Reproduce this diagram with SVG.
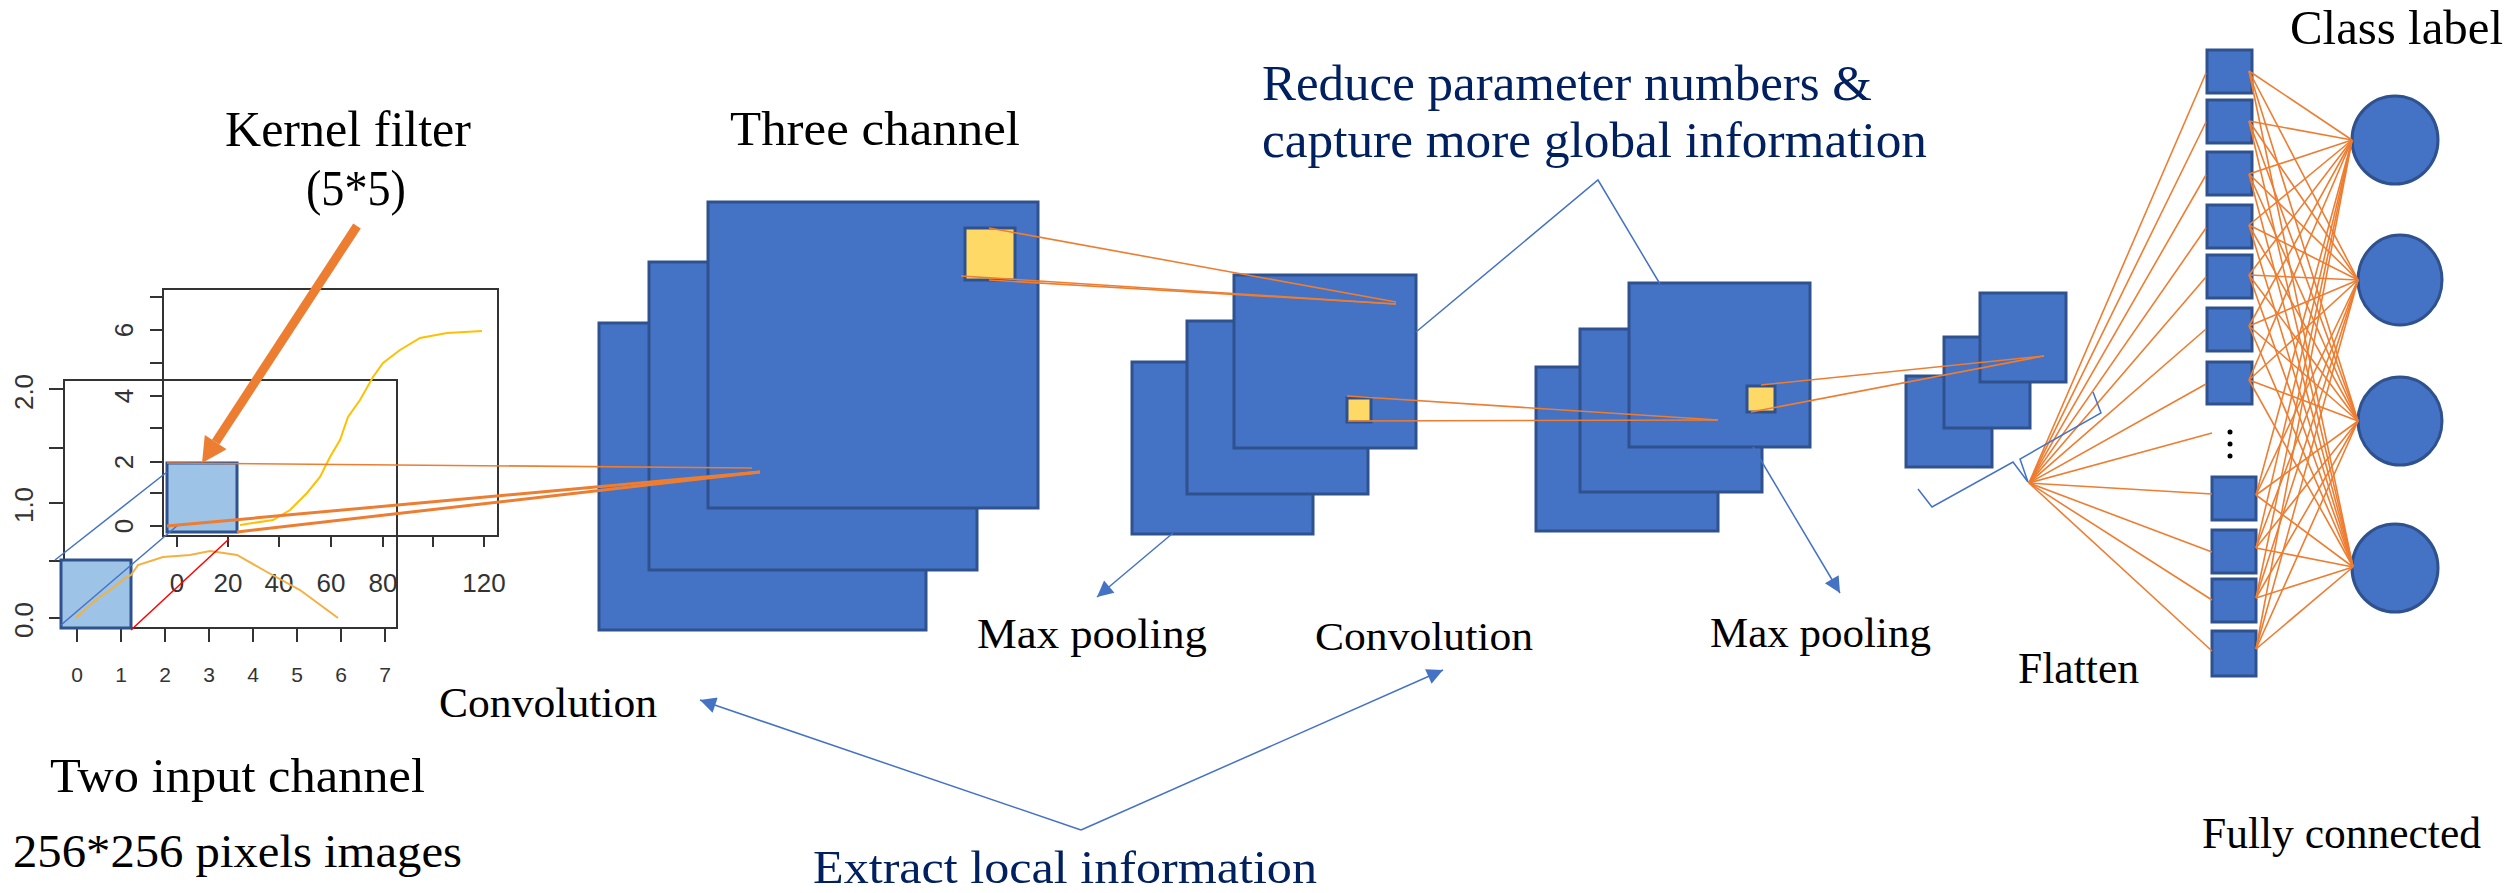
<svg xmlns="http://www.w3.org/2000/svg" width="2517" height="893" viewBox="0 0 2517 893">
<style>
.blk{fill:#4472C4;stroke:#2F528F;stroke-width:3}
.yel{fill:#FFD966;stroke:#2F528F;stroke-width:3}
.kern{fill:#9DC3E6;stroke:#2F528F;stroke-width:3}
.or{stroke:#ED7D31;stroke-width:1.6;fill:none}
.orT{stroke:#ED7D31;stroke-width:3;fill:none}
.bl{stroke:#4472C4;stroke-width:1.5;fill:none}
.t{font-family:"Liberation Serif",serif;fill:#000}
.nav{fill:#002060}
.ax{font-family:"Liberation Sans",sans-serif;fill:#333}
.frame{fill:none;stroke:#333;stroke-width:2}
.tick{stroke:#333;stroke-width:2}
</style>
<defs>
<marker id="ah" viewBox="0 0 10 10" refX="10" refY="5" markerWidth="18" markerHeight="16" markerUnits="userSpaceOnUse" orient="auto">
<path d="M0,0 L10,5 L0,10 z" fill="#4472C4"/>
</marker>
</defs>
<rect width="2517" height="893" fill="#fff"/>

<g id="input-chart">
<rect class="frame" x="163" y="289" width="335" height="247"/>
<rect class="frame" x="64" y="380" width="333" height="248"/>
<g class="tick">
<line x1="150" y1="297" x2="163" y2="297"/><line x1="150" y1="330" x2="163" y2="330"/><line x1="150" y1="363" x2="163" y2="363"/><line x1="150" y1="396" x2="163" y2="396"/><line x1="150" y1="428" x2="163" y2="428"/><line x1="150" y1="462" x2="163" y2="462"/><line x1="150" y1="493" x2="163" y2="493"/><line x1="150" y1="526" x2="163" y2="526"/>
<line x1="177" y1="536" x2="177" y2="547"/><line x1="228" y1="536" x2="228" y2="547"/><line x1="279" y1="536" x2="279" y2="547"/><line x1="331" y1="536" x2="331" y2="547"/><line x1="383" y1="536" x2="383" y2="547"/><line x1="433" y1="536" x2="433" y2="547"/><line x1="484" y1="536" x2="484" y2="547"/>
<line x1="49" y1="389" x2="64" y2="389"/><line x1="49" y1="448" x2="64" y2="448"/><line x1="49" y1="503" x2="64" y2="503"/><line x1="49" y1="561" x2="64" y2="561"/><line x1="49" y1="618" x2="64" y2="618"/>
<line x1="77" y1="628" x2="77" y2="642"/><line x1="121" y1="628" x2="121" y2="642"/><line x1="165" y1="628" x2="165" y2="642"/><line x1="209" y1="628" x2="209" y2="642"/><line x1="253" y1="628" x2="253" y2="642"/><line x1="297" y1="628" x2="297" y2="642"/><line x1="341" y1="628" x2="341" y2="642"/><line x1="385" y1="628" x2="385" y2="642"/>
</g>
<g class="ax" font-size="26" text-anchor="middle">
<text x="177" y="592">0</text><text x="228" y="592">20</text><text x="279" y="592">40</text><text x="331" y="592">60</text><text x="383" y="592">80</text><text x="484" y="592">120</text>
<text transform="translate(133,330) rotate(-90)">6</text><text transform="translate(133,396) rotate(-90)">4</text><text transform="translate(133,462) rotate(-90)">2</text><text transform="translate(133,526) rotate(-90)">0</text>
<text transform="translate(33,392) rotate(-90)">2.0</text><text transform="translate(33,505) rotate(-90)">1.0</text><text transform="translate(33,620) rotate(-90)">0.0</text>
</g>
<g class="ax" font-size="21" text-anchor="middle">
<text x="77" y="682">0</text><text x="121" y="682">1</text><text x="165" y="682">2</text><text x="209" y="682">3</text><text x="253" y="682">4</text><text x="297" y="682">5</text><text x="341" y="682">6</text><text x="385" y="682">7</text>
</g>
<polyline points="240,525 273,520 290,510 307,493 320,477 330,457 340,440 348,417 360,400 373,377 383,363 400,350 420,338 447,333 482,331" fill="none" stroke="#FFC000" stroke-width="2"/>
<rect class="kern" x="61" y="560" width="70" height="68"/>
<rect class="kern" x="167" y="463" width="70" height="69"/>
<polyline points="76,618 90,605 100,597 113,588 125,578 131,575 138,565 163,557 190,555 210,551 237,555 267,572 300,590 338,618" fill="none" stroke="#F4B040" stroke-width="2"/>
<line class="bl" x1="55" y1="560" x2="167" y2="472"/>
<line class="bl" x1="61" y1="625" x2="178" y2="525"/>
<line x1="131" y1="630" x2="229" y2="539" stroke="#FF0000" stroke-width="1.5"/>
</g>

<g id="conv1">
<rect class="blk" x="599" y="323" width="327" height="307"/>
<rect class="blk" x="649" y="262" width="328" height="308"/>
<rect class="blk" x="708" y="202" width="330" height="306"/>
<rect class="yel" x="965" y="228" width="50" height="52"/>
</g>
<g id="maxpool1">
<rect class="blk" x="1132" y="362" width="181" height="172"/>
<rect class="blk" x="1187" y="321" width="181" height="173"/>
<rect class="blk" x="1234" y="275" width="182" height="173"/>
<rect class="yel" x="1347" y="398" width="24" height="24"/>
</g>
<g id="conv2">
<rect class="blk" x="1536" y="367" width="182" height="164"/>
<rect class="blk" x="1580" y="329" width="182" height="163"/>
<rect class="blk" x="1629" y="283" width="181" height="164"/>
<rect class="yel" x="1747" y="386" width="28" height="26"/>
</g>
<g id="maxpool2">
<rect class="blk" x="1906" y="376" width="86" height="91"/>
<rect class="blk" x="1944" y="337" width="86" height="91"/>
<rect class="blk" x="1980" y="293" width="86" height="89"/>
</g>
<g id="fc-layer">
<rect class="blk" x="2207" y="50" width="45" height="43"/>
<rect class="blk" x="2207" y="100" width="45" height="43"/>
<rect class="blk" x="2207" y="152" width="45" height="43"/>
<rect class="blk" x="2207" y="205" width="45" height="43"/>
<rect class="blk" x="2207" y="255" width="45" height="43"/>
<rect class="blk" x="2207" y="308" width="45" height="43"/>
<rect class="blk" x="2207" y="362" width="45" height="42"/>
<circle cx="2230" cy="432" r="2.5" fill="#000"/><circle cx="2230" cy="444" r="2.5" fill="#000"/><circle cx="2230" cy="456" r="2.5" fill="#000"/>
<rect class="blk" x="2212" y="477" width="44" height="43"/>
<rect class="blk" x="2212" y="530" width="44" height="43"/>
<rect class="blk" x="2212" y="579" width="44" height="43"/>
<rect class="blk" x="2212" y="631" width="44" height="45"/>
</g>
<g id="output-layer">
<ellipse class="blk" cx="2395" cy="140" rx="43" ry="44"/>
<ellipse class="blk" cx="2400" cy="280" rx="42" ry="45"/>
<ellipse class="blk" cx="2400" cy="421" rx="42" ry="44"/>
<ellipse class="blk" cx="2395" cy="568" rx="43" ry="44"/>
</g>

<g id="connectors">
<line x1="357" y1="226" x2="215.7" y2="442.1" stroke="#ED7D31" stroke-width="9"/>
<polygon points="202,463 226.6,449.2 204.8,435" fill="#ED7D31"/>
<line class="or" x1="167" y1="463" x2="752" y2="468"/>
<line class="orT" x1="167" y1="526" x2="760" y2="472"/>
<line class="orT" x1="237" y1="532" x2="760" y2="472"/>
<line class="or" x1="989" y1="228" x2="1396" y2="302"/>
<line class="or" x1="961" y1="276" x2="1396" y2="304"/>
<line class="or" x1="989" y1="280" x2="1396" y2="304"/>
<line class="or" x1="1347" y1="396" x2="1718" y2="420"/>
<line class="or" x1="1348" y1="421" x2="1718" y2="420"/>
<line class="or" x1="1761" y1="385" x2="2044" y2="356"/>
<line class="or" x1="1751" y1="412" x2="2044" y2="356"/>
<g class="or" stroke-width="1.4">
<line x1="2029" y1="483" x2="2206" y2="73"/><line x1="2029" y1="483" x2="2206" y2="122"/><line x1="2029" y1="483" x2="2206" y2="175"/><line x1="2029" y1="483" x2="2206" y2="228"/><line x1="2029" y1="483" x2="2206" y2="277"/><line x1="2029" y1="483" x2="2206" y2="329"/><line x1="2029" y1="483" x2="2206" y2="384"/><line x1="2029" y1="483" x2="2212" y2="433"/><line x1="2029" y1="483" x2="2212" y2="494"/><line x1="2029" y1="483" x2="2212" y2="552"/><line x1="2029" y1="483" x2="2212" y2="600"/><line x1="2029" y1="483" x2="2212" y2="651"/>
</g>
<g class="or" stroke-width="1.4">
<line x1="2249" y1="71" x2="2352" y2="140"/><line x1="2249" y1="71" x2="2358" y2="280"/><line x1="2249" y1="71" x2="2358" y2="421"/><line x1="2249" y1="71" x2="2353" y2="567"/>
<line x1="2249" y1="121" x2="2352" y2="140"/><line x1="2249" y1="121" x2="2358" y2="280"/><line x1="2249" y1="121" x2="2358" y2="421"/><line x1="2249" y1="121" x2="2353" y2="567"/>
<line x1="2249" y1="174" x2="2352" y2="140"/><line x1="2249" y1="174" x2="2358" y2="280"/><line x1="2249" y1="174" x2="2358" y2="421"/><line x1="2249" y1="174" x2="2353" y2="567"/>
<line x1="2249" y1="225" x2="2352" y2="140"/><line x1="2249" y1="225" x2="2358" y2="280"/><line x1="2249" y1="225" x2="2358" y2="421"/><line x1="2249" y1="225" x2="2353" y2="567"/>
<line x1="2249" y1="275" x2="2352" y2="140"/><line x1="2249" y1="275" x2="2358" y2="280"/><line x1="2249" y1="275" x2="2358" y2="421"/><line x1="2249" y1="275" x2="2353" y2="567"/>
<line x1="2249" y1="326" x2="2352" y2="140"/><line x1="2249" y1="326" x2="2358" y2="280"/><line x1="2249" y1="326" x2="2358" y2="421"/><line x1="2249" y1="326" x2="2353" y2="567"/>
<line x1="2249" y1="380" x2="2352" y2="140"/><line x1="2249" y1="380" x2="2358" y2="280"/><line x1="2249" y1="380" x2="2358" y2="421"/><line x1="2249" y1="380" x2="2353" y2="567"/>
<line x1="2256" y1="495" x2="2352" y2="140"/><line x1="2256" y1="495" x2="2358" y2="280"/><line x1="2256" y1="495" x2="2358" y2="421"/><line x1="2256" y1="495" x2="2353" y2="567"/>
<line x1="2256" y1="548" x2="2352" y2="140"/><line x1="2256" y1="548" x2="2358" y2="280"/><line x1="2256" y1="548" x2="2358" y2="421"/><line x1="2256" y1="548" x2="2353" y2="567"/>
<line x1="2256" y1="598" x2="2352" y2="140"/><line x1="2256" y1="598" x2="2358" y2="280"/><line x1="2256" y1="598" x2="2358" y2="421"/><line x1="2256" y1="598" x2="2353" y2="567"/>
<line x1="2256" y1="649" x2="2352" y2="140"/><line x1="2256" y1="649" x2="2358" y2="280"/><line x1="2256" y1="649" x2="2358" y2="421"/><line x1="2256" y1="649" x2="2353" y2="567"/>
</g>
<polyline class="bl" points="1918,489 1932,507 2013,462 2028,482 2020,459 2101,413 2093,392"/>
<polyline class="bl" points="1416,332 1598,180 1660,284"/>
<line class="bl" x1="1173" y1="533" x2="1097" y2="597" marker-end="url(#ah)"/>
<line class="bl" x1="1753" y1="447" x2="1840" y2="593" marker-end="url(#ah)"/>
<line class="bl" x1="1081" y1="830" x2="700" y2="700" marker-end="url(#ah)"/>
<line class="bl" x1="1081" y1="830" x2="1443" y2="670" marker-end="url(#ah)"/>
</g>

<g id="labels" class="t">
<text x="225" y="146" font-size="50" textLength="246" lengthAdjust="spacingAndGlyphs">Kernel filter</text>
<text x="306" y="205" font-size="50" textLength="100" lengthAdjust="spacingAndGlyphs">(5*5)</text>
<text x="730" y="145" font-size="48" textLength="290" lengthAdjust="spacingAndGlyphs">Three channel</text>
<text class="nav" x="1262" y="100" font-size="50" textLength="610" lengthAdjust="spacingAndGlyphs">Reduce parameter numbers &amp;</text>
<text class="nav" x="1262" y="157" font-size="50" textLength="665" lengthAdjust="spacingAndGlyphs">capture more global information</text>
<text x="977" y="648" font-size="42" textLength="230" lengthAdjust="spacingAndGlyphs">Max pooling</text>
<text x="1315" y="650" font-size="41" textLength="218" lengthAdjust="spacingAndGlyphs">Convolution</text>
<text x="1710" y="647" font-size="43" textLength="221" lengthAdjust="spacingAndGlyphs">Max pooling</text>
<text x="439" y="717" font-size="43" textLength="218" lengthAdjust="spacingAndGlyphs">Convolution</text>
<text x="2018" y="683" font-size="44" textLength="121" lengthAdjust="spacingAndGlyphs">Flatten</text>
<text x="2290" y="44" font-size="48" textLength="213" lengthAdjust="spacingAndGlyphs">Class label</text>
<text x="2202" y="848" font-size="45" textLength="279" lengthAdjust="spacingAndGlyphs">Fully connected</text>
<text x="50" y="792" font-size="48" textLength="375" lengthAdjust="spacingAndGlyphs">Two input channel</text>
<text x="13" y="867" font-size="47" textLength="449" lengthAdjust="spacingAndGlyphs">256*256 pixels images</text>
<text class="nav" x="813" y="883" font-size="46" textLength="504" lengthAdjust="spacingAndGlyphs">Extract local information</text>
</g>
</svg>
